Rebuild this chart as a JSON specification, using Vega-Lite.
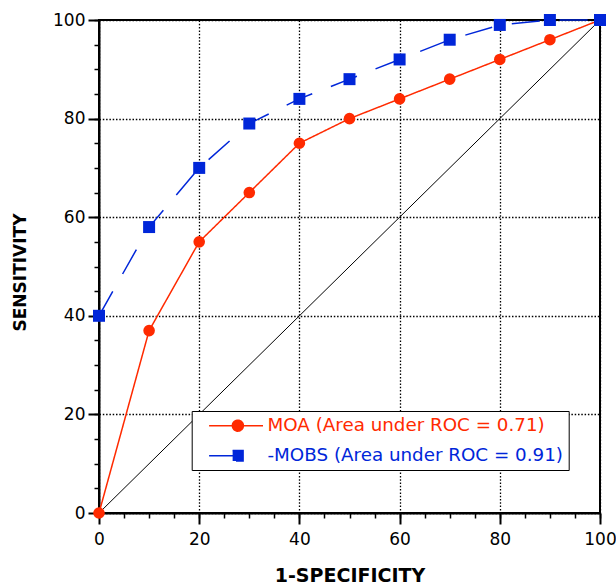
{
  "$schema": "https://vega.github.io/schema/vega-lite/v6.json",
  "width": 501,
  "height": 493,
  "autosize": {"type": "none"},
  "padding": {"left": 99, "top": 20, "right": 16, "bottom": 72},
  "background": "white",
  "config": {
    "view": {"stroke": "black", "strokeWidth": 2},
    "font": "DejaVu Sans"
  },
  "datasets": {
    "roc": [
      {"fpr": 0, "sens": 0, "series": "MOA (Area under ROC = 0.71)", "curve": "MOA (Area under ROC = 0.71)"},
      {"fpr": 10, "sens": 37, "series": "MOA (Area under ROC = 0.71)", "curve": "MOA (Area under ROC = 0.71)"},
      {"fpr": 20, "sens": 55, "series": "MOA (Area under ROC = 0.71)", "curve": "MOA (Area under ROC = 0.71)"},
      {"fpr": 30, "sens": 65, "series": "MOA (Area under ROC = 0.71)", "curve": "MOA (Area under ROC = 0.71)"},
      {"fpr": 40, "sens": 75, "series": "MOA (Area under ROC = 0.71)", "curve": "MOA (Area under ROC = 0.71)"},
      {"fpr": 50, "sens": 80, "series": "MOA (Area under ROC = 0.71)", "curve": "MOA (Area under ROC = 0.71)"},
      {"fpr": 60, "sens": 84, "series": "MOA (Area under ROC = 0.71)", "curve": "MOA (Area under ROC = 0.71)"},
      {"fpr": 70, "sens": 88, "series": "MOA (Area under ROC = 0.71)", "curve": "MOA (Area under ROC = 0.71)"},
      {"fpr": 80, "sens": 92, "series": "MOA (Area under ROC = 0.71)", "curve": "MOA (Area under ROC = 0.71)"},
      {"fpr": 90, "sens": 96, "series": "MOA (Area under ROC = 0.71)", "curve": "MOA (Area under ROC = 0.71)"},
      {"fpr": 100, "sens": 100, "series": "MOA (Area under ROC = 0.71)", "curve": "MOA (Area under ROC = 0.71)"},
      {"fpr": 0, "sens": 40, "series": "-MOBS (Area under ROC = 0.91)", "curve": "-MOBS (Area under ROC = 0.91)"},
      {"fpr": 10, "sens": 58, "series": "-MOBS (Area under ROC = 0.91)", "curve": "-MOBS (Area under ROC = 0.91)"},
      {"fpr": 20, "sens": 70, "series": "-MOBS (Area under ROC = 0.91)", "curve": "-MOBS (Area under ROC = 0.91)"},
      {"fpr": 30, "sens": 79, "series": "-MOBS (Area under ROC = 0.91)", "curve": "-MOBS (Area under ROC = 0.91)"},
      {"fpr": 40, "sens": 84, "series": "-MOBS (Area under ROC = 0.91)", "curve": "-MOBS (Area under ROC = 0.91)"},
      {"fpr": 50, "sens": 88, "series": "-MOBS (Area under ROC = 0.91)", "curve": "-MOBS (Area under ROC = 0.91)"},
      {"fpr": 60, "sens": 92, "series": "-MOBS (Area under ROC = 0.91)", "curve": "-MOBS (Area under ROC = 0.91)"},
      {"fpr": 70, "sens": 96, "series": "-MOBS (Area under ROC = 0.91)", "curve": "-MOBS (Area under ROC = 0.91)"},
      {"fpr": 80, "sens": 99, "series": "-MOBS (Area under ROC = 0.91)", "curve": "-MOBS (Area under ROC = 0.91)"},
      {"fpr": 90, "sens": 100, "series": "-MOBS (Area under ROC = 0.91)", "curve": "-MOBS (Area under ROC = 0.91)"},
      {"fpr": 100, "sens": 100, "series": "-MOBS (Area under ROC = 0.91)", "curve": "-MOBS (Area under ROC = 0.91)"}
    ],
    "diag": [
      {"fpr": 0, "sens": 0},
      {"fpr": 100, "sens": 100}
    ]
  },
  "layer": [
    {
      "data": {"name": "diag"},
      "mark": {"type": "line", "color": "black", "strokeWidth": 1},
      "encoding": {
        "x": {
          "field": "fpr", "type": "quantitative",
          "scale": {"domain": [0, 100], "nice": false, "zero": true},
          "axis": {
            "orient": "bottom", "values": [0,5,10,15,20,25,30,35,40,45,50,55,60,65,70,75,80,85,90,95,100],
            "labels": false, "domain": false, "grid": false, "ticks": true,
            "tickSize": 5, "tickWidth": 1.5, "tickColor": "black", "title": null
          }
        },
        "y": {
          "field": "sens", "type": "quantitative",
          "scale": {"domain": [0, 100], "nice": false, "zero": true},
          "axis": {
            "orient": "left", "values": [0,5,10,15,20,25,30,35,40,45,50,55,60,65,70,75,80,85,90,95,100],
            "labels": false, "domain": false, "grid": false, "ticks": true,
            "tickSize": 5, "tickWidth": 1.5, "tickColor": "black", "title": null
          }
        }
      }
    },
    {
      "data": {"name": "roc"},
      "mark": {"type": "line", "strokeWidth": 1.5},
      "encoding": {
        "x": {
          "field": "fpr", "type": "quantitative",
          "axis": {
            "orient": "bottom", "values": [0, 20, 40, 60, 80, 100],
            "domain": true, "domainColor": "black", "domainWidth": 2,
            "ticks": true, "tickSize": 11, "tickWidth": 2, "tickColor": "black",
            "grid": true, "gridColor": "black", "gridDash": [1.5, 1.8], "gridWidth": 1.3, "gridOpacity": 1,
            "labelFont": "DejaVu Sans", "labelFontSize": 17, "labelColor": "black",
            "labelPadding": 7, "labelFlush": false, "labelOverlap": false,
            "title": "1-SPECIFICITY", "titleFont": "DejaVu Sans", "titleFontSize": 19,
            "titleFontWeight": "bold", "titleColor": "black", "titleY": 53
          }
        },
        "y": {
          "field": "sens", "type": "quantitative",
          "axis": {
            "orient": "left", "values": [0, 20, 40, 60, 80, 100],
            "domain": true, "domainColor": "black", "domainWidth": 2,
            "ticks": true, "tickSize": 11, "tickWidth": 2, "tickColor": "black",
            "grid": true, "gridColor": "black", "gridDash": [1.5, 1.8], "gridWidth": 1.3, "gridOpacity": 1,
            "labelFont": "DejaVu Sans", "labelFontSize": 17, "labelColor": "black",
            "labelPadding": 3, "labelFlush": false, "labelOverlap": false,
            "title": "SENSITIVITY", "titleFont": "DejaVu Sans", "titleFontSize": 17,
            "titleFontWeight": "bold", "titleColor": "black", "titleX": -70, "titleY": 252
          }
        },
        "color": {
          "field": "series", "type": "nominal",
          "scale": {"domain": ["MOA (Area under ROC = 0.71)", "-MOBS (Area under ROC = 0.91)"], "range": ["#ff2a00", "#0026d9"]}
        },
        "strokeDash": {
          "field": "curve", "type": "nominal",
          "scale": {"domain": ["MOA (Area under ROC = 0.71)", "-MOBS (Area under ROC = 0.91)"], "range": [[1, 0], [28, 20]]},
          "legend": {
            "orient": "none", "legendX": 96.7, "legendY": 395, "title": null,
            "fillColor": "black", "strokeColor": "black",
            "padding": 5.5, "rowPadding": 11,
            "symbolSize": 121, "symbolStrokeColor": "black",
            "labelFont": "DejaVu Sans", "labelFontSize": 18.3, "labelLimit": 400, "labelOffset": 52,
            "labelColor": "black"
          }
        }
      }
    },
    {
      "data": {"name": "roc"},
      "transform": [{"filter": "datum.series === 'MOA (Area under ROC = 0.71)'"}],
      "mark": {"type": "point", "filled": true, "opacity": 1, "size": 135, "shape": "circle"},
      "encoding": {
        "x": {"field": "fpr", "type": "quantitative", "axis": null},
        "y": {"field": "sens", "type": "quantitative", "axis": null},
        "color": {
          "field": "series", "type": "nominal",
          "legend": {
            "orient": "none", "legendX": 92.7, "legendY": 391, "title": null,
            "fillColor": "white", "strokeColor": "black",
            "padding": 5.5, "rowPadding": 11,
            "symbolSize": 121, "symbolOpacity": 1,
            "labelFont": "DejaVu Sans", "labelFontSize": 18.3, "labelLimit": 400, "labelOffset": 52,
            "encode": {
              "symbols": {
                "update": {
                  "shape": {"signal": "indexof(datum.value, 'MOA') === 0 ? 'M0.5,0H10.3M6.73,0A1,1 0 1,1 4.73,0A1,1 0 1,1 6.73,0Z' : 'M0.5,0H5.73M4.78,-0.95H6.68V0.95H4.78Z'"},
                  "stroke": {"signal": "indexof(datum.value, 'MOA') === 0 ? '#ff2a00' : '#0026d9'"},
                  "fill": {"signal": "indexof(datum.value, 'MOA') === 0 ? '#ff2a00' : '#0026d9'"},
                  "strokeWidth": {"signal": "1.5"}
                }
              },
              "labels": {
                "update": {
                  "fill": {"signal": "indexof(datum.value, 'MOA') === 0 ? '#ff2a00' : '#0026d9'"}
                }
              }
            }
          }
        }
      }
    },
    {
      "data": {"name": "roc"},
      "transform": [{"filter": "datum.series === '-MOBS (Area under ROC = 0.91)'"}],
      "mark": {"type": "point", "filled": true, "opacity": 1, "size": 144, "shape": "square"},
      "encoding": {
        "x": {"field": "fpr", "type": "quantitative", "axis": null},
        "y": {"field": "sens", "type": "quantitative", "axis": null},
        "color": {"field": "series", "type": "nominal"}
      }
    }
  ],
  "resolve": {"axis": {"x": "independent", "y": "independent"}}
}
